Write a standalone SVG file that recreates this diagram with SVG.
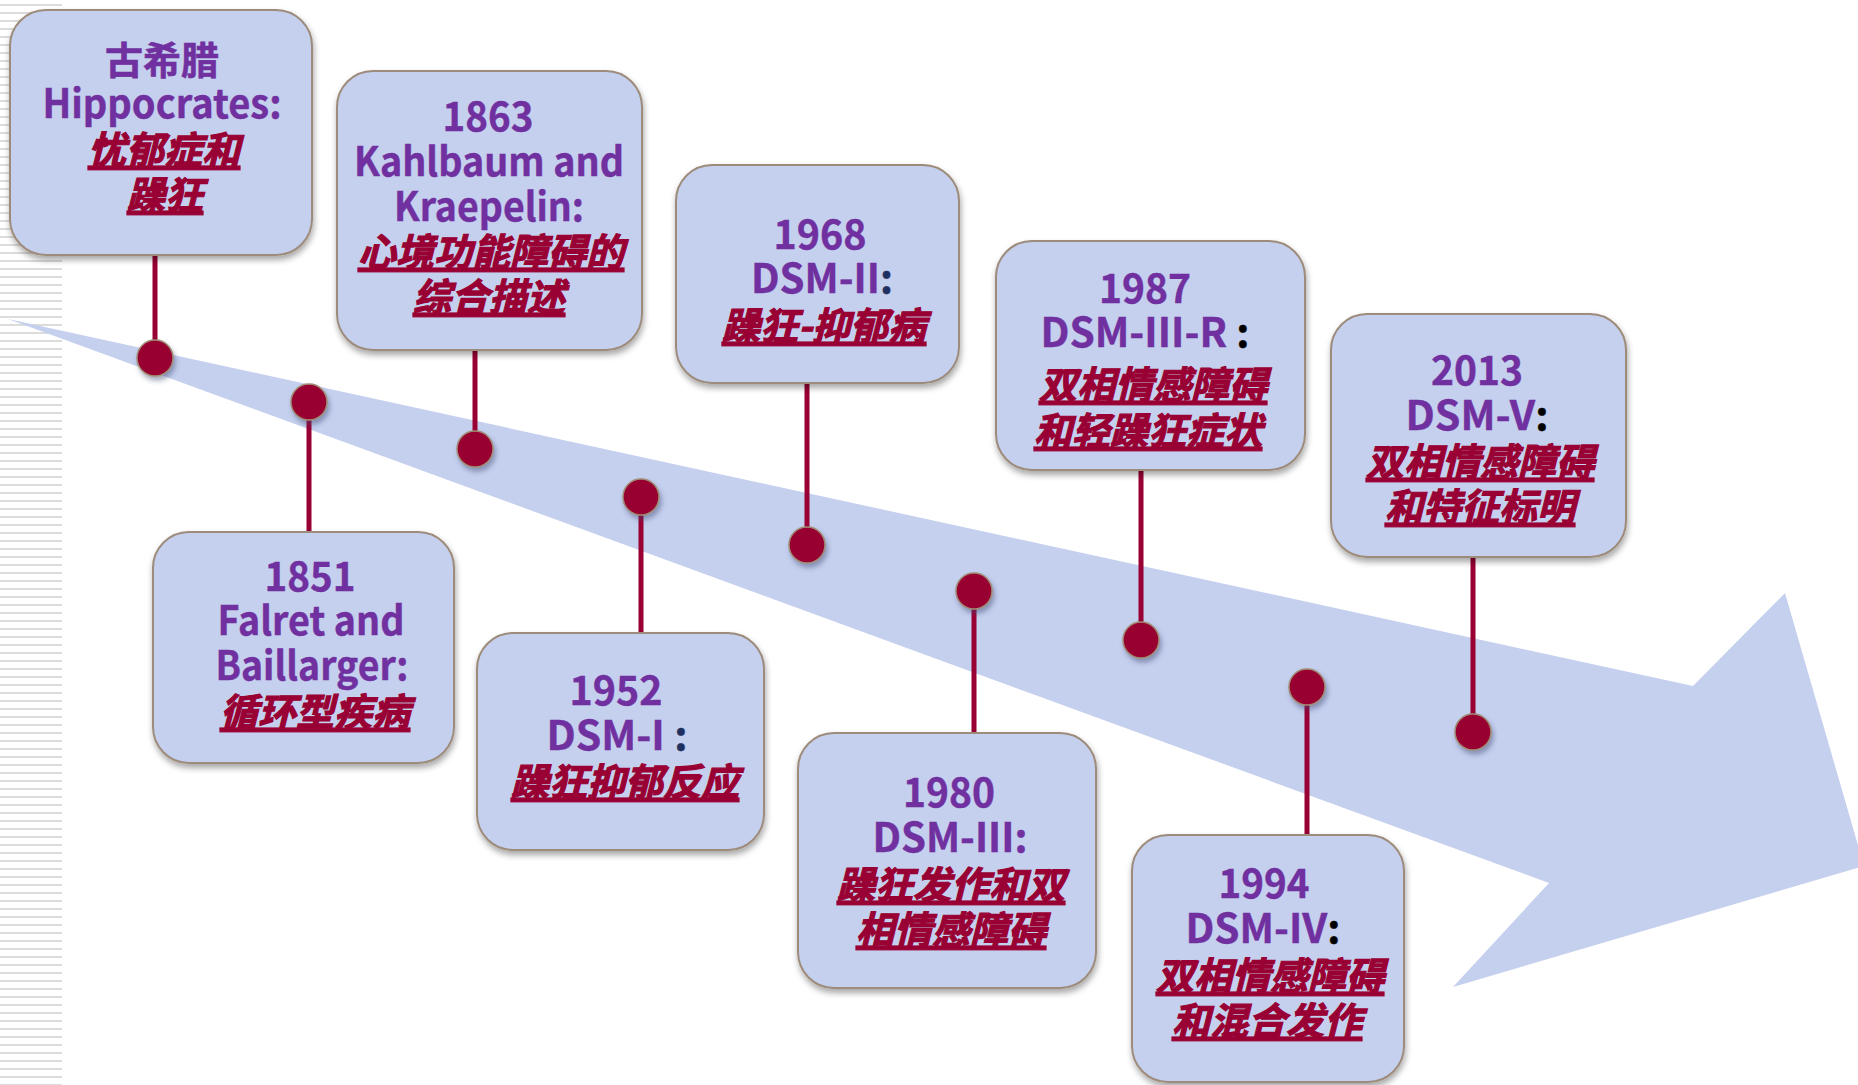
<svg xmlns="http://www.w3.org/2000/svg" width="1858" height="1085" viewBox="0 0 1858 1085">
<defs>
<pattern id="stripes" x="0" y="0" width="62" height="8" patternUnits="userSpaceOnUse">
<rect x="0" y="4" width="62" height="2" fill="#dcdcdc"/>
</pattern>
<filter id="sh" x="-10%" y="-10%" width="120%" height="125%">
<feDropShadow dx="1" dy="4" stdDeviation="3" flood-color="#000" flood-opacity="0.35"/>
</filter>
<filter id="dsh" x="-50%" y="-50%" width="200%" height="200%">
<feDropShadow dx="2" dy="4" stdDeviation="2.5" flood-color="#3a4670" flood-opacity="0.45"/>
</filter>
<style>
.box{fill:#c5cfee;stroke:#9d8b7b;stroke-width:2;filter:url(#sh)}
.ln{stroke:#990033;stroke-width:5;fill:none}
.dot{fill:#990033;stroke:#a08c74;stroke-width:1.5;filter:url(#dsh)}
.yr{font-family:"Noto Sans CJK SC","Noto Sans",sans-serif;font-weight:700;font-size:40px;fill:#7030a0;stroke:#7030a0;stroke-width:0.4;text-anchor:middle}
.cn{font-family:"Noto Sans CJK SC",sans-serif;font-weight:700;font-style:italic;font-size:38px;fill:#990033;stroke:#990033;stroke-width:1.2;text-decoration:underline;text-anchor:middle}
.cp{font-family:"Noto Sans CJK SC",sans-serif;font-weight:700;font-size:38px;fill:#7030a0;stroke:#7030a0;stroke-width:0.6;text-anchor:middle}
.nv{fill:#1f3060;stroke:#1f3060}
.bk{fill:#000000;stroke:#000000}
</style>
</defs>
<rect x="0" y="0" width="1858" height="1085" fill="#ffffff"/>
<rect x="0" y="0" width="62" height="1085" fill="url(#stripes)"/>
<polygon id="arrow" points="8,319 1693,686 1785,593 1864,866 1453,987 1549,883" fill="#c5cfee"/>

<g id="connectors">
<line class="ln" x1="155" y1="255" x2="155" y2="358"/>
<line class="ln" x1="309" y1="402" x2="309" y2="532"/>
<line class="ln" x1="475" y1="350" x2="475" y2="449"/>
<line class="ln" x1="641" y1="497" x2="641" y2="633"/>
<line class="ln" x1="807" y1="383" x2="807" y2="545"/>
<line class="ln" x1="974" y1="591" x2="974" y2="733"/>
<line class="ln" x1="1141" y1="470" x2="1141" y2="640"/>
<line class="ln" x1="1307" y1="687" x2="1307" y2="835"/>
<line class="ln" x1="1473" y1="557" x2="1473" y2="732"/>
<circle class="dot" cx="155" cy="358" r="18"/>
<circle class="dot" cx="309" cy="402" r="18"/>
<circle class="dot" cx="475" cy="449" r="18"/>
<circle class="dot" cx="641" cy="497" r="18"/>
<circle class="dot" cx="807" cy="545" r="18"/>
<circle class="dot" cx="974" cy="591" r="18"/>
<circle class="dot" cx="1141" cy="640" r="18"/>
<circle class="dot" cx="1307" cy="687" r="18"/>
<circle class="dot" cx="1473" cy="732" r="18"/>
</g>

<g id="node-hippocrates">
<rect class="box" x="10" y="10" width="302" height="245" rx="36"/>
<text class="cp" x="162" y="74">古希腊</text>
<text class="yr" x="162" y="118" textLength="239" lengthAdjust="spacingAndGlyphs">Hippocrates:</text>
<text class="cn" x="164" y="164">忧郁症和</text>
<text class="cn" x="165" y="209">躁狂</text>
</g>

<g id="node-1851">
<rect class="box" x="153" y="532" width="301" height="231" rx="36"/>
<text class="yr" x="310" y="591" textLength="91" lengthAdjust="spacingAndGlyphs">1851</text>
<text class="yr" x="311" y="635" textLength="187" lengthAdjust="spacingAndGlyphs">Falret and</text>
<text class="yr" x="312" y="680" textLength="193" lengthAdjust="spacingAndGlyphs">Baillarger:</text>
<text class="cn" x="315" y="726">循环型疾病</text>
</g>

<g id="node-1863">
<rect class="box" x="337" y="71" width="305" height="279" rx="36"/>
<text class="yr" x="488" y="131" textLength="91" lengthAdjust="spacingAndGlyphs">1863</text>
<text class="yr" x="489" y="176" textLength="270" lengthAdjust="spacingAndGlyphs">Kahlbaum and</text>
<text class="yr" x="489" y="221" textLength="190" lengthAdjust="spacingAndGlyphs">Kraepelin:</text>
<text class="cn" x="491" y="266">心境功能障碍的</text>
<text class="cn" x="489" y="311">综合描述</text>
</g>

<g id="node-1952">
<rect class="box" x="477" y="633" width="287" height="217" rx="36"/>
<text class="yr" x="616" y="705" textLength="93" lengthAdjust="spacingAndGlyphs">1952</text>
<text class="yr" x="617" y="750" textLength="141" lengthAdjust="spacingAndGlyphs">DSM-I<tspan class="nv"> :</tspan></text>
<text class="cn" x="625" y="796">躁狂抑郁反应</text>
</g>

<g id="node-1968">
<rect class="box" x="676" y="165" width="283" height="218" rx="36"/>
<text class="yr" x="820" y="249" textLength="93" lengthAdjust="spacingAndGlyphs">1968</text>
<text class="yr" x="822" y="293" textLength="142" lengthAdjust="spacingAndGlyphs">DSM-II<tspan class="nv">:</tspan></text>
<text class="cn" x="824" y="340">躁狂-抑郁病</text>
</g>

<g id="node-1980">
<rect class="box" x="798" y="733" width="298" height="255" rx="36"/>
<text class="yr" x="949" y="807" textLength="92" lengthAdjust="spacingAndGlyphs">1980</text>
<text class="yr" x="950" y="852" textLength="155" lengthAdjust="spacingAndGlyphs">DSM-III:</text>
<text class="cn" x="951" y="899">躁狂发作和双</text>
<text class="cn" x="951" y="944">相情感障碍</text>
</g>

<g id="node-1987">
<rect class="box" x="996" y="241" width="309" height="229" rx="36"/>
<text class="yr" x="1145" y="303" textLength="92" lengthAdjust="spacingAndGlyphs">1987</text>
<text class="yr" x="1145" y="347" textLength="209" lengthAdjust="spacingAndGlyphs">DSM-III-R<tspan class="bk"> :</tspan></text>
<text class="cn" x="1153" y="399">双相情感障碍</text>
<text class="cn" x="1148" y="445">和轻躁狂症状</text>
</g>

<g id="node-1994">
<rect class="box" x="1132" y="835" width="272" height="247" rx="36"/>
<text class="yr" x="1264" y="898" textLength="91" lengthAdjust="spacingAndGlyphs">1994</text>
<text class="yr" x="1263" y="943" textLength="155" lengthAdjust="spacingAndGlyphs">DSM-IV<tspan class="bk">:</tspan></text>
<text class="cn" x="1270" y="990">双相情感障碍</text>
<text class="cn" x="1267" y="1035">和混合发作</text>
</g>

<g id="node-2013">
<rect class="box" x="1331" y="314" width="295" height="243" rx="36"/>
<text class="yr" x="1477" y="385" textLength="92" lengthAdjust="spacingAndGlyphs">2013</text>
<text class="yr" x="1477" y="430" textLength="143" lengthAdjust="spacingAndGlyphs">DSM-V<tspan class="bk">:</tspan></text>
<text class="cn" x="1480" y="476">双相情感障碍</text>
<text class="cn" x="1480" y="521">和特征标明</text>
</g>
</svg>
